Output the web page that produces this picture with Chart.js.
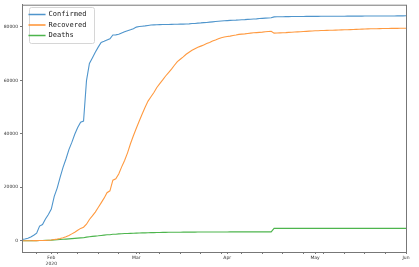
<!DOCTYPE html>
<html>
<head>
  <title>China cumulative cases</title>
  <script src="https://cdn.jsdelivr.net/npm/chart.js"></script>
  <style>
    html, body { margin: 0; padding: 0; background: #fff; }
    #wrap { width: 419px; height: 267px; }
  </style>
</head>
<body>
  <div id="wrap"><canvas id="covidChart"></canvas></div>

  <script>
    // --- Data: daily totals, 2020-01-22 .. 2020-06-01 (day index 0..131) ---
    const confirmed = [
      548, 643, 920, 1406, 2075, 2877, 5509, 6087, 8141, 9802,
      11891, 16630, 19716, 23707, 27440, 30587, 34110, 36814, 39829, 42354, 44386, 44759, 59895, 66358, 68413,
      70513, 72434, 74211, 74619, 75077, 75550, 77001, 77022, 77241, 77754, 78166, 78600, 78928, 79356,
      79932, 80136, 80261, 80386, 80537, 80690, 80770, 80823, 80860, 80887, 80921, 80932, 80945, 80977, 81003,
      81033, 81058, 81102, 81156, 81250, 81305, 81435, 81498, 81591, 81661, 81782, 81897, 81999, 82122, 82198, 82279,
      82361, 82432, 82511, 82543, 82602, 82665, 82718, 82809, 82883, 82941, 83014, 83134, 83213, 83306, 83356,
      83403, 83760, 83787, 83805, 83817, 83853, 83868, 83884, 83899, 83909, 83912, 83918, 83940, 83944, 83956,
      83959, 83959, 83964, 83966, 83970, 83968, 83970, 83990, 84001, 84010, 84011, 84018, 84024, 84029, 84038,
      84044, 84054, 84063, 84063, 84065, 84081, 84084, 84095, 84102, 84103, 84106, 84106, 84106, 84123, 84128, 84146,
      84154
    ];
    const recovered = [
      28, 30, 36, 39, 49, 58, 101, 120, 135, 214,
      275, 463, 614, 843, 1115, 1476, 1998, 2595, 3218, 3917, 4635, 5079, 6213, 7973, 9294,
      10748, 12455, 14199, 15952, 18002, 18693, 22687, 23170, 24990, 27650, 30053, 32898, 36291, 39279,
      42118, 44810, 47404, 49955, 52240, 53888, 55478, 57365, 58804, 60181, 61644, 62901, 64196, 65660, 67017,
      67910, 68798, 69755, 70535, 71266, 71857, 72362, 72814, 73280, 73773, 74181, 74720, 75100, 75582, 75923, 76206,
      76405, 76565, 76760, 76946, 77207, 77310, 77410, 77567, 77679, 77791, 77877, 77956, 78039, 78200, 78311,
      78401, 77663, 77723, 77764, 77803, 77860, 77950, 78027, 78100, 78160, 78210, 78270, 78350, 78422, 78486,
      78538, 78581, 78634, 78680, 78710, 78740, 78770, 78813, 78850, 78888, 78924, 78964, 79000, 79040, 79090,
      79150, 79190, 79230, 79270, 79300, 79320, 79340, 79360, 79390, 79410, 79430, 79450, 79460, 79470, 79480, 79490,
      79500
    ];
    const deaths = [
      17, 18, 26, 42, 56, 82, 131, 133, 171, 213,
      259, 361, 425, 490, 562, 632, 717, 804, 904, 1011, 1111, 1116, 1368, 1520, 1662,
      1765, 1863, 2002, 2114, 2236, 2236, 2441, 2443, 2593, 2663, 2715, 2744, 2788, 2835,
      2870, 2912, 2945, 2981, 3013, 3045, 3073, 3099, 3123, 3140, 3162, 3173, 3180, 3194, 3204,
      3218, 3231, 3242, 3250, 3253, 3259, 3274, 3274, 3281, 3285, 3291, 3296, 3299, 3304, 3308, 3309,
      3316, 3322, 3326, 3330, 3333, 3335, 3335, 3337, 3339, 3340, 3343, 3343, 3345, 3345, 3346,
      3346, 4636, 4636, 4636, 4636, 4636, 4636, 4636, 4636, 4637, 4637, 4637, 4637, 4637, 4637,
      4637, 4637, 4637, 4637, 4637, 4637, 4637, 4637, 4637, 4637, 4637, 4637, 4637, 4637, 4637,
      4637, 4637, 4637, 4637, 4637, 4637, 4637, 4637, 4637, 4637, 4637, 4637, 4637, 4638, 4638, 4638,
      4638
    ];

    // --- Axis ticks ---
    const monthTickDays = [10, 39, 70, 100, 131];           // Feb 1, Mar 1, Apr 1, May 1, Jun 1
    const monthTickLabels = [['Feb', '2020'], 'Mar', 'Apr', 'May', 'Jun'];
    const weekTickDays = [5, 12, 19, 26, 33, 40, 47, 54, 61, 68, 75, 82, 89, 96, 103, 110, 117, 124]; // Mondays
    const yTicks = [0, 20000, 40000, 60000, 80000];

    const toPoints = arr => arr.map((v, i) => ({ x: i, y: v }));

    // frame around plot + legend box
    const framePlugin = {
      id: 'frame',
      afterLayout(chart) {
        const lg = chart.legend;
        lg.left += 3.5; lg.top += 7.5;
        lg.legendHitBoxes.forEach(h => { h.left += 3.5; h.top += 7.5; });
      },
      beforeDraw(chart) {
        const c = chart.ctx;
        const hb = chart.legend.legendHitBoxes;
        const x0 = Math.min(...hb.map(h => h.left)) - 4;
        const y0 = Math.min(...hb.map(h => h.top)) - 4;
        const x1 = Math.max(...hb.map(h => h.left + h.width)) + 3.5;
        const y1 = Math.max(...hb.map(h => h.top + h.height)) + 3.5;
        c.save();
        c.fillStyle = '#fff';
        c.strokeStyle = '#d6d6d6';
        c.lineWidth = 1;
        c.beginPath();
        c.roundRect(Math.round(x0) + 0.5, Math.round(y0) + 0.5, Math.round(x1 - x0), Math.round(y1 - y0), 2);
        c.fill();
        c.stroke();
        c.restore();
      },
      afterDraw(chart) {
        const a = chart.chartArea;
        const c = chart.ctx;
        c.save();
        c.strokeStyle = '#777';
        c.lineWidth = 1;
        c.strokeRect(a.left + 0.5, a.top + 0.5, a.right - a.left, a.bottom - a.top);
        c.restore();
      }
    };

    const ds = (label, data, color) => ({
      label: label,
      data: toPoints(data),
      borderColor: color,
      backgroundColor: color,
      borderWidth: 1.1,
      pointRadius: 0,
      tension: 0
    });

    const ctx = document.getElementById('covidChart').getContext('2d');
    new Chart(ctx, {
      type: 'line',
      data: {
        datasets: [
          ds('Confirmed', confirmed, '#4f95cc'),
          ds('Recovered', recovered, '#ff9a40'),
          ds('Deaths', deaths, '#4db54d')
        ]
      },
      plugins: [framePlugin],
      options: {
        responsive: true,
        maintainAspectRatio: false,
        animation: false,
        layout: { padding: { left: 0, right: 13, top: 3, bottom: 0 } },
        plugins: {
          tooltip: { enabled: false },
          legend: {
            position: 'chartArea',
            align: 'start',
            labels: {
              boxWidth: 16,
              boxHeight: 0.3,
              padding: 3.5,
              color: '#222',
              font: { family: 'DejaVu Sans Mono', size: 7 }
            }
          }
        },
        scales: {
          x: {
            type: 'linear',
            min: 0,
            max: 131,
            afterBuildTicks: s => {
              s.ticks = monthTickDays.concat(weekTickDays).sort((a, b) => a - b).map(v => ({ value: v }));
            },
            afterFit: s => { s.height = 15; },
            ticks: {
              autoSkip: false,
              maxRotation: 0,
              padding: 1,
              color: '#333',
              font: { family: 'DejaVu Sans', size: 4.5, lineHeight: 1.3 },
              callback: v => {
                const i = monthTickDays.indexOf(v);
                return i >= 0 ? monthTickLabels[i] : '';
              }
            },
            grid: { drawOnChartArea: false, tickLength: 2, tickColor: '#777' },
            border: { color: '#777' }
          },
          y: {
            min: -4190,
            max: 88310,
            afterBuildTicks: s => { s.ticks = yTicks.map(v => ({ value: v })); },
            afterFit: s => { s.width = 22; },
            ticks: {
              padding: 2,
              color: '#333',
              font: { family: 'DejaVu Sans', size: 4.5 },
              callback: v => String(v)
            },
            grid: { drawOnChartArea: false, tickLength: 2, tickColor: '#777' },
            border: { color: '#777' }
          }
        }
      }
    });
  </script>
</body>
</html>
